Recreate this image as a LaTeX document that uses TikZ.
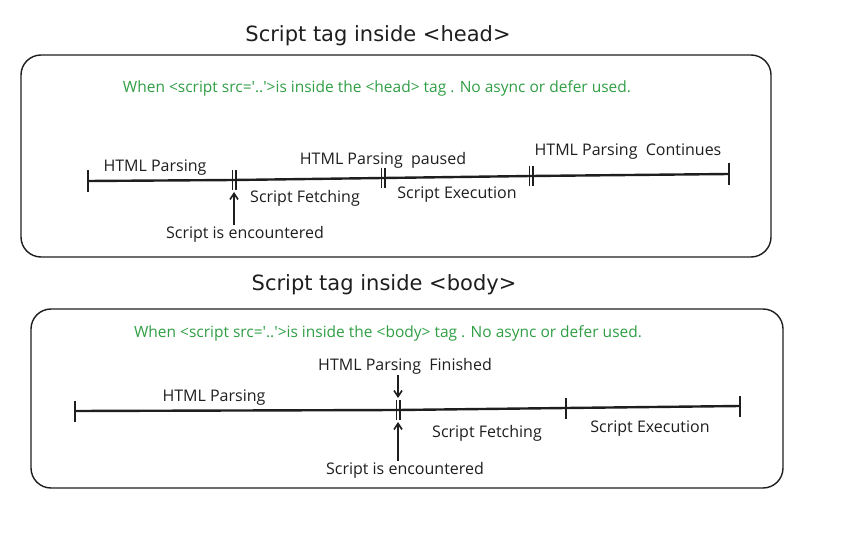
\documentclass[tikz,border=0pt]{standalone}
\usepackage{fontspec}
\setmainfont{Open Sans}[Ligatures=TeXOff]
\newfontfamily\titlefont{DejaVu Sans}
\usetikzlibrary{arrows.meta,positioning}
\definecolor{Ink}{HTML}{1E1E1E}
\definecolor{Note}{HTML}{2F9E44}

\begin{document}
\begin{tikzpicture}[x=1pt,y=-1pt,
    panel/.style={draw=Ink,line width=1.4pt,rounded corners=20pt},
    bar/.style={draw=Ink,line width=2.4pt},
    tickmark/.style={draw=Ink,line width=1.8pt},
    lbl/.style={font=\fontsize{16}{19}\selectfont,text=Ink,inner sep=1pt,yshift=-2pt},
    note/.style={font=\fontsize{15.5}{18}\selectfont,text=Note,yshift=-1pt},
    heading/.style={font=\titlefont\fontsize{21}{25}\selectfont,text=Ink},
    ptr/.style={-{Straight Barb[length=6pt,width=8pt]},draw=Ink,line width=1.6pt}]
  \useasboundingbox (0,0) rectangle (841,540);

  % ---- script in <head>
  \node[heading] (headtitle) at (378,36) {Script tag inside <head>};
  \draw[panel] (21,55) rectangle (771,257);
  \node[note] (headnote) at (377,87)
    {When <script src='..'>is inside the <head> tag . No async or defer used.};
  \coordinate (h0) at (88,181);
  \coordinate (h1) at (234,180);
  \coordinate (h2) at (383,178);
  \coordinate (h3) at (531,176);
  \coordinate (h4) at (729,174);
  \draw[bar] (h0) -- (h1) -- (h2) -- (h3) -- (h4);
  \foreach \p in {h0,h4}
    \draw[tickmark] ([yshift=11pt]\p) -- ([yshift=-11pt]\p);
  \foreach \p in {h1,h2,h3} {
    \draw[tickmark] ([xshift=-1.6pt,yshift=10pt]\p) -- ([xshift=-1.6pt,yshift=-10pt]\p);
    \draw[tickmark] ([xshift=1.6pt,yshift=10pt]\p) -- ([xshift=1.6pt,yshift=-10pt]\p);
  }
  \node[lbl] (hparse) at (155,166) {HTML Parsing};
  \node[lbl] (hfetch) at (305,196) {Script Fetching};
  \node[lbl] (hpause) at (383,158) {HTML Parsing~ paused};
  \node[lbl] (hexec) at (457,193) {Script Execution};
  \node[lbl] (hcont) at (628,150) {HTML Parsing~ Continues};
  \node[lbl] (henc) at (245,232) {Script is encountered};
  \draw[ptr] (henc.north -| h1) -- ([yshift=-12pt]h1);

  % ---- script in <body>
  \node[heading] (bodytitle) at (384,285) {Script tag inside <body>};
  \draw[panel] (31,309) rectangle (783,488);
  \node[note] (bodynote) at (388,332)
    {When <script src='..'>is inside the <body> tag . No async or defer used.};
  \coordinate (b0) at (75,411);
  \coordinate (b1) at (398,410);
  \coordinate (b2) at (566,408);
  \coordinate (b3) at (740,406);
  \draw[bar] (b0) -- (b1) -- (b2) -- (b3);
  \foreach \p in {b0,b2,b3}
    \draw[tickmark] ([yshift=10pt]\p) -- ([yshift=-11pt]\p);
  \draw[tickmark] ([xshift=-1.6pt,yshift=10pt]b1) -- ([xshift=-1.6pt,yshift=-10pt]b1);
  \draw[tickmark] ([xshift=1.6pt,yshift=10pt]b1) -- ([xshift=1.6pt,yshift=-10pt]b1);
  \node[lbl] (bparse) at (214,396) {HTML Parsing};
  \node[lbl] (bfin) at (405,364) {HTML Parsing~ Finished};
  \node[lbl] (bfetch) at (487,431) {Script Fetching};
  \node[lbl] (bexec) at (650,427) {Script Execution};
  \node[lbl] (benc) at (405,468) {Script is encountered};
  \draw[ptr] (bfin.south -| b1) -- ([yshift=12pt]b1);
  \draw[ptr] (benc.north -| b1) -- ([yshift=-12pt]b1);
\end{tikzpicture}
\end{document}
